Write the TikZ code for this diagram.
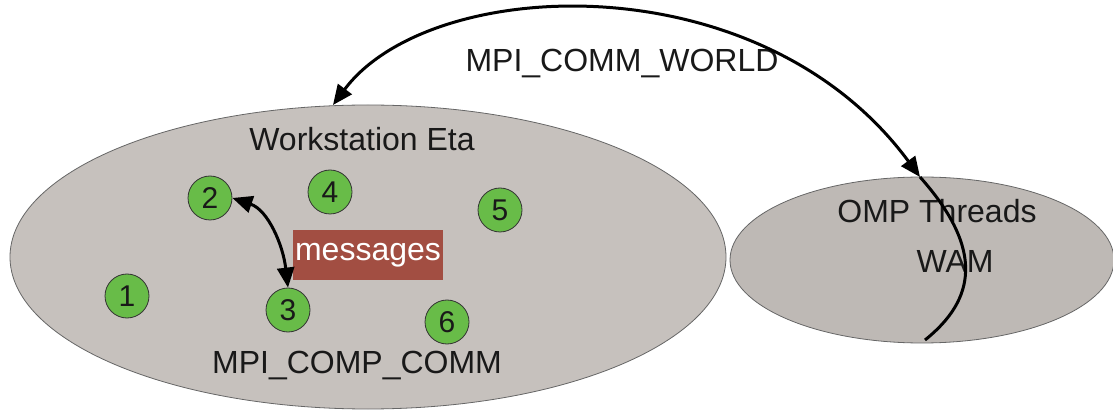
\documentclass[tikz,border=0pt]{standalone}
\usepackage{fontspec}
\setmainfont{Liberation Sans}
\usetikzlibrary{shapes.geometric,arrows.meta}
\definecolor{wsgray}{RGB}{198,193,189}
\definecolor{ompgray}{RGB}{190,185,181}
\definecolor{procgreen}{RGB}{104,188,72}
\definecolor{msgred}{RGB}{162,78,66}
\definecolor{txt}{RGB}{25,25,25}
\tikzset{
  bigtxt/.style={font=\fontsize{32}{38}\selectfont, text=txt, inner sep=0pt},
  region/.style={ellipse, draw=black!60, line width=0.8pt, inner sep=0pt},
  proc/.style={circle, fill=procgreen, draw=black!80, line width=0.8pt, minimum size=44pt, inner sep=0pt,
    font=\fontsize{30}{34}\selectfont, text=txt},
  comm/.style={line width=3pt, black, -{Triangle[length=22pt,width=17pt]}},
  dcomm/.style={line width=3pt, black, {Triangle[length=20pt,width=17pt]}-{Triangle[length=20pt,width=17pt]}},
}
\begin{document}
\begin{tikzpicture}[x=1pt,y=-1pt]
\useasboundingbox (0,0) rectangle (1113,411);
\node[region, fill=wsgray, minimum width=716pt, minimum height=304pt] (ws) at (368,257) {};
\node[region, fill=ompgray, minimum width=384pt, minimum height=166pt] (omp) at (922,260) {};

\node[bigtxt] (wstitle) at (362,139) {Workstation Eta};
\node[bigtxt] (comp) at (357,366) {MPI\_COMP\_COMM};
\node[bigtxt] (world) at (622,64) {MPI\_COMM\_WORLD};
\node[bigtxt] (ompt) at (937,211) {OMP Threads};
\node[bigtxt] (wam) at (955,261) {WAM};

\node[fill=msgred, minimum width=150pt, minimum height=50pt, inner sep=0pt,
      font=\fontsize{32}{38}\selectfont, text=white] (msg) at (368,255) {messages};

\node[proc] (p1) at (127,296) {1};
\node[proc] (p2) at (210,198) {2};
\node[proc] (p3) at (288,310) {3};
\node[proc] (p4) at (330,192) {4};
\node[proc] (p5) at (500,210) {5};
\node[proc] (p6) at (447,322) {6};

\draw[dcomm] (p2.east) .. controls (268,210) and (283,245) .. (p3.north);

\coordinate (wsin) at (333,105);
\coordinate (omptop) at (920,177);
\coordinate (ompbot) at (925,340);
\draw[line width=3pt] (omptop) .. controls (985,250) and (975,300) .. (ompbot);
\draw[dcomm] (wsin) .. controls (430,-25) and (760,-40) .. (omptop);
\end{tikzpicture}
\end{document}
